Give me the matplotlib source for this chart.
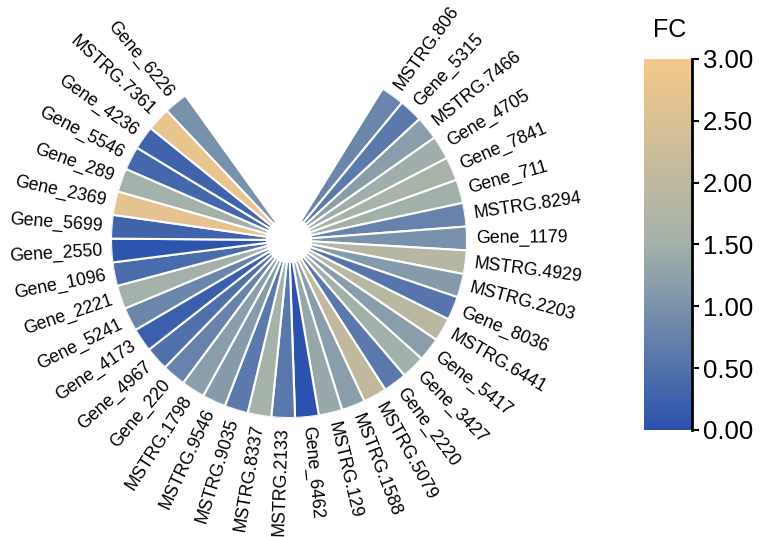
import numpy as np
import matplotlib
matplotlib.use("Agg")
import matplotlib.pyplot as plt
from matplotlib.colors import LinearSegmentedColormap, Normalize

plt.rcParams['font.family'] = ['Liberation Sans', 'DejaVu Sans']

# genes, clockwise from the top right
genes = ["MSTRG.806", "Gene_5315", "MSTRG.7466", "Gene_4705", "Gene_7841", "Gene_711",
         "MSTRG.8294", "Gene_1179", "MSTRG.4929", "MSTRG.2203", "Gene_8036", "MSTRG.6441",
         "Gene_5417", "Gene_3427", "Gene_2220", "MSTRG.5079", "MSTRG.1588", "MSTRG.129",
         "Gene_6462", "MSTRG.2133", "MSTRG.8337", "MSTRG.9035", "MSTRG.9546", "MSTRG.1798",
         "Gene_220", "Gene_4967", "Gene_4173", "Gene_5241", "Gene_2221", "Gene_1096",
         "Gene_2550", "Gene_5699", "Gene_2369", "Gene_289", "Gene_5546", "Gene_4236",
         "MSTRG.7361", "Gene_6226"]

# fold change of each gene
fc = [0.80, 0.63, 1.19, 1.45, 1.60, 1.48,
      0.77, 0.99, 1.83, 1.13, 0.56, 1.88,
      1.19, 1.48, 0.60, 2.03, 1.19, 1.36,
      0.02, 0.60, 1.54, 0.63, 1.13, 1.19,
      0.77, 0.47, 0.22, 0.80, 1.50, 0.40,
      0.05, 0.27, 2.70, 1.50, 0.33, 0.27,
      2.76, 0.99]

cbar_ticks = [0.0, 0.5, 1.0, 1.5, 2.0, 2.5, 3.0]

cmap = LinearSegmentedColormap.from_list("fc", ["#2a52ad", "#a3b1aa", "#f5c88a"])
norm = Normalize(vmin=0, vmax=3)

fig = plt.figure(figsize=(7.7, 5.37), dpi=100)

# circular bar chart, gap at the top
ax = fig.add_axes([0.1442, 0.2216, 0.4623, 0.6629], projection='polar')
ax.set_theta_zero_location('N')
ax.set_theta_direction(-1)

start = 35.6   # degrees clockwise from top
step = 7.7
angles = np.deg2rad(start + step * np.arange(len(genes)))

r_in = 22
r_out = 178
ax.bar(angles, r_out - r_in, width=np.deg2rad(step), bottom=r_in,
       color=cmap(norm(np.array(fc))), edgecolor='white', linewidth=1.5)
ax.set_ylim(0, r_out)
ax.set_axis_off()

# radial labels
for a, g in zip(angles, genes):
    d = np.rad2deg(a)
    if d < 180:
        rot = 90 - d
        ha = 'left'
    else:
        rot = 270 - d
        ha = 'right'
    ax.text(a, r_out + 9, g, rotation=rot, rotation_mode='anchor',
            ha=ha, va='center', fontsize=12.8, clip_on=False)

# colour bar
cax = fig.add_axes([0.8364, 0.1993, 0.0623, 0.6909])
sm = plt.cm.ScalarMappable(cmap=cmap, norm=norm)
cb = fig.colorbar(sm, cax=cax, ticks=cbar_ticks)
cb.outline.set_visible(False)
cax.spines['right'].set_visible(True)
cax.spines['right'].set_linewidth(2)
cb.ax.set_yticklabels([f"{t:.2f}" for t in cbar_ticks])
cb.ax.tick_params(labelsize=18.5, length=5, width=1.5, pad=3)
fig.text(0.869, 0.944, "FC", ha='center', va='center', fontsize=18)

fig.savefig("out.png", dpi=100)
